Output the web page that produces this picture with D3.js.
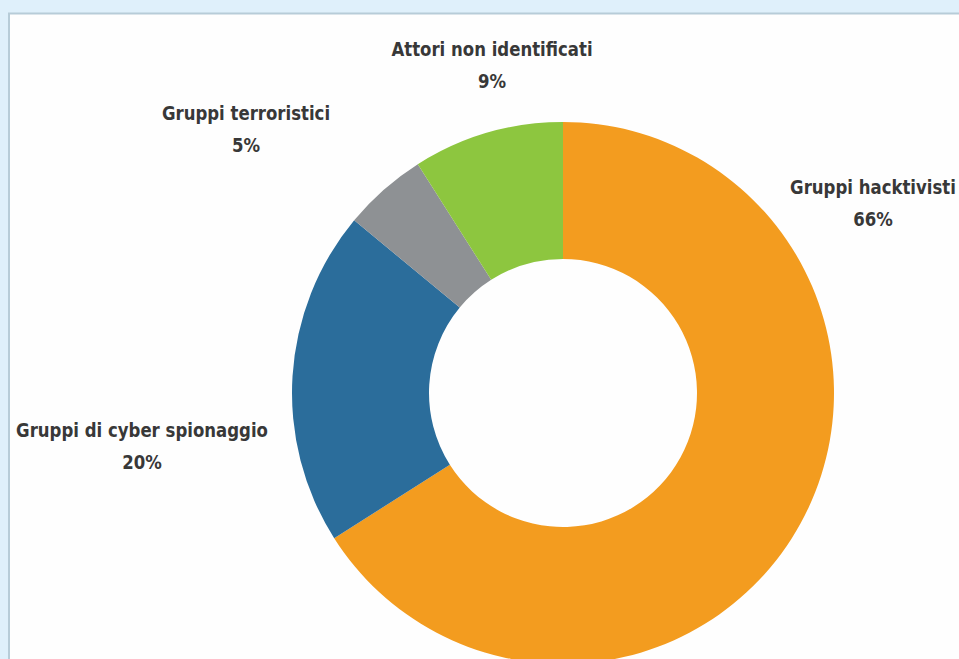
<!DOCTYPE html>
<html>
  <head>
    <meta charset="UTF-8" />
    <script src="https://d3js.org/d3.v7.min.js"></script>
    <style>
      body { margin: 0; background: #dff0fb; }
    </style>
  </head>
  <body>
    <div id="my_dataviz"></div>

    <script>
      var width = 959,
        height = 659;

      // data
      const categories = [
        "Gruppi hacktivisti",
        "Gruppi di cyber spionaggio",
        "Gruppi terroristici",
        "Attori non identificati"
      ];
      const values = [66, 20, 5, 9];
      const colors = ["#f39c1f", "#2b6d9b", "#8e9194", "#8dc63f"];

      // where each label sits (layout only)
      const labelPos = [
        [873, 194],
        [142, 437],
        [246, 120],
        [492, 56]
      ];

      var svg = d3
        .select("#my_dataviz")
        .append("svg")
        .attr("width", width)
        .attr("height", height);

      // light blue frame + white panel
      svg.append("rect")
        .attr("width", width)
        .attr("height", height)
        .attr("fill", "#dff0fb");
      svg.append("rect")
        .attr("x", 9)
        .attr("y", 13.5)
        .attr("width", width + 10)
        .attr("height", height)
        .attr("fill", "#fefefe")
        .attr("stroke", "#b7ccd8")
        .attr("stroke-width", 2);

      var cx = 563,
        cy = 393,
        rOuter = 271,
        rInner = 134;

      var pie = d3.pie().sort(null).value(d => d);
      var arc = d3.arc().innerRadius(rInner).outerRadius(rOuter);

      var g = svg.append("g").attr("transform", "translate(" + cx + "," + cy + ")");
      g.selectAll("path")
        .data(pie(values))
        .join("path")
        .attr("d", arc)
        .attr("fill", (d, i) => colors[i]);

      // labels
      var lab = svg.append("g")
        .attr("font-family", "'DejaVu Sans Condensed', 'Liberation Sans Narrow', sans-serif")
        .attr("font-weight", "bold")
        .attr("font-size", 20)
        .attr("fill", "#383838")
        .attr("text-anchor", "middle");

      categories.forEach(function (c, i) {
        var x = labelPos[i][0], y = labelPos[i][1];
        var t = lab.append("text")
          .attr("transform", "translate(" + x + "," + y + ") scale(0.92,1)");
        t.append("tspan").attr("x", 0).attr("y", 0).text(c);
        t.append("tspan").attr("x", 0).attr("dy", 32).text(values[i] + "%");
      });
    </script>
  </body>
</html>
